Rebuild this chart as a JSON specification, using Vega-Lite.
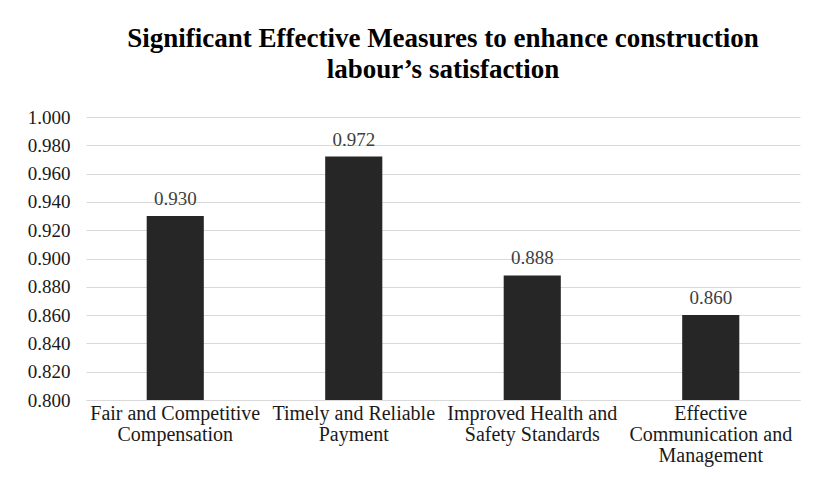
{
  "$schema": "https://vega.github.io/schema/vega-lite/v6.json",
  "autosize": "none",
  "width": 714,
  "height": 283,
  "padding": {"left": 86, "top": 117, "right": 16, "bottom": 92},
  "background": "white",
  "title": {
    "text": ["Significant Effective Measures to enhance construction", "labour’s satisfaction"],
    "font": "Liberation Serif",
    "fontSize": 27,
    "fontWeight": "bold",
    "color": "#000000",
    "lineHeight": 31,
    "anchor": "middle",
    "offset": 24
  },
  "data": {
    "values": [
      {"measure": "Fair and Competitive Compensation", "value": 0.930},
      {"measure": "Timely and Reliable Payment", "value": 0.972},
      {"measure": "Improved Health and Safety Standards", "value": 0.888},
      {"measure": "Effective Communication and Management", "value": 0.860}
    ]
  },
  "encoding": {
    "x": {
      "field": "measure",
      "type": "nominal",
      "sort": null,
      "scale": {"paddingInner": 0.68, "paddingOuter": 0.34},
      "axis": {
        "title": null,
        "labelAngle": 0,
        "labelFontSize": 20,
        "labelLineHeight": 21,
        "labelPadding": 3,
        "labelLimit": 300,
        "labelOverlap": false,
        "ticks": false,
        "domainColor": "#d9d9d9",
        "labelExpr": "datum.value == 'Fair and Competitive Compensation' ? ['Fair and Competitive', 'Compensation'] : datum.value == 'Timely and Reliable Payment' ? ['Timely and Reliable', 'Payment'] : datum.value == 'Improved Health and Safety Standards' ? ['Improved Health and', 'Safety Standards'] : ['Effective', 'Communication and', 'Management']"
      }
    },
    "y": {
      "field": "value",
      "type": "quantitative",
      "scale": {"domain": [0.8, 1.0], "zero": false},
      "axis": {
        "title": null,
        "values": [0.8, 0.82, 0.84, 0.86, 0.88, 0.9, 0.92, 0.94, 0.96, 0.98, 1.0],
        "format": ".3f",
        "labelPadding": 16,
        "ticks": false,
        "domain": false,
        "gridColor": "#d9d9d9",
        "gridWidth": 1
      }
    }
  },
  "layer": [
    {"mark": {"type": "bar", "color": "#262626", "clip": true}},
    {
      "mark": {"type": "text", "dy": -17, "fontSize": 19, "color": "#404040"},
      "encoding": {"text": {"field": "value", "type": "quantitative", "format": ".3f"}}
    }
  ],
  "config": {
    "font": "Liberation Serif",
    "view": {"stroke": null},
    "axis": {"labelFont": "Liberation Serif", "labelFontSize": 19, "labelColor": "#1a1a1a"}
  }
}
